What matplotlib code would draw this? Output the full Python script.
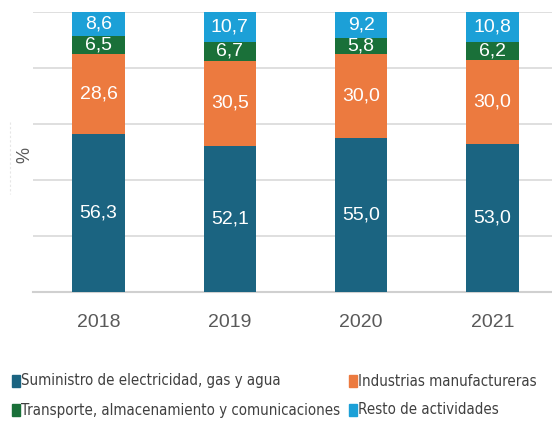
import matplotlib
matplotlib.use("Agg")
import matplotlib.pyplot as plt
from matplotlib.patches import Rectangle
from matplotlib.lines import Line2D
import numpy as np

years = ["2018", "2019", "2020", "2021"]
series_names = [
    "Suministro de electricidad, gas y agua",
    "Industrias manufactureras",
    "Transporte, almacenamiento y comunicaciones",
    "Resto de actividades",
]
electricidad = [56.3, 52.1, 55.0, 53.0]
manufactureras = [28.6, 30.5, 30.0, 30.0]
transporte = [6.5, 6.7, 5.8, 6.2]
resto = [8.6, 10.7, 9.2, 10.8]
series = [electricidad, manufactureras, transporte, resto]
colors = ["#1B6481", "#EC7A3F", "#1A7039", "#1CA0D7"]

W, H = 552, 421
fig = plt.figure(figsize=(W / 100, H / 100), dpi=100)
ax_left, ax_bottom = 33 / W, (H - 292) / H
ax_w, ax_h = 525 / W, 280 / H
ax = fig.add_axes([ax_left, ax_bottom, ax_w, ax_h])

x = np.arange(len(years))
bottom = np.zeros(len(years))
for vals, col in zip(series, colors):
    vals = np.array(vals)
    ax.bar(x, vals, width=0.40, bottom=bottom, color=col, zorder=3)
    for xi, b, v in zip(x, bottom, vals):
        ax.text(xi, b + v / 2, f"{v:.1f}".replace(".", ","), ha="center", va="center",
                color="white", fontsize=14, family=["Liberation Sans", "DejaVu Sans"], zorder=4)
    bottom += vals

ax.set_xlim(-0.5, 3.5)
ax.set_ylim(0, 100)
ax.set_yticks([0, 20, 40, 60, 80, 100])
ax.set_yticklabels([])
ax.tick_params(axis="y", length=0)
ax.grid(axis="y", color="#D9D9D9", linewidth=1.2, zorder=0)
for s in ["top", "right", "left"]:
    ax.spines[s].set_visible(False)
ax.spines["bottom"].set_color("#D0D0D0")
ax.spines["bottom"].set_linewidth(1.5)
ax.set_xticks(x)
ax.set_xticklabels(years, fontsize=14, color="#595959", family=["Liberation Sans", "DejaVu Sans"])
ax.tick_params(axis="x", length=0, pad=16)

fig.text(25 / W, 1 - 155 / H, "%", rotation=90, ha="center", va="center",
         fontsize=13, color="#595959", family=["Liberation Sans", "DejaVu Sans"])
fig.add_artist(Line2D([9.5 / W, 9.5 / W], [1 - 122 / H, 1 - 194 / H], color="#E6E6E6",
                      linewidth=0.8, linestyle=(0, (2, 2))))

legend_pos = [(12, 381), (349, 381), (12, 410), (349, 410)]
for (lx, ly), name, col in zip(legend_pos, series_names, colors):
    fig.add_artist(Rectangle((lx / W, 1 - (ly + 6) / H), 8 / W, 12 / H, color=col,
                             transform=fig.transFigure))
    fig.text((lx + 9) / W, 1 - ly / H, name, ha="left", va="center", fontsize=10.8,
             color="#404040", family=["DejaVu Sans"], fontstretch="condensed")

fig.savefig("out.png", dpi=100)
